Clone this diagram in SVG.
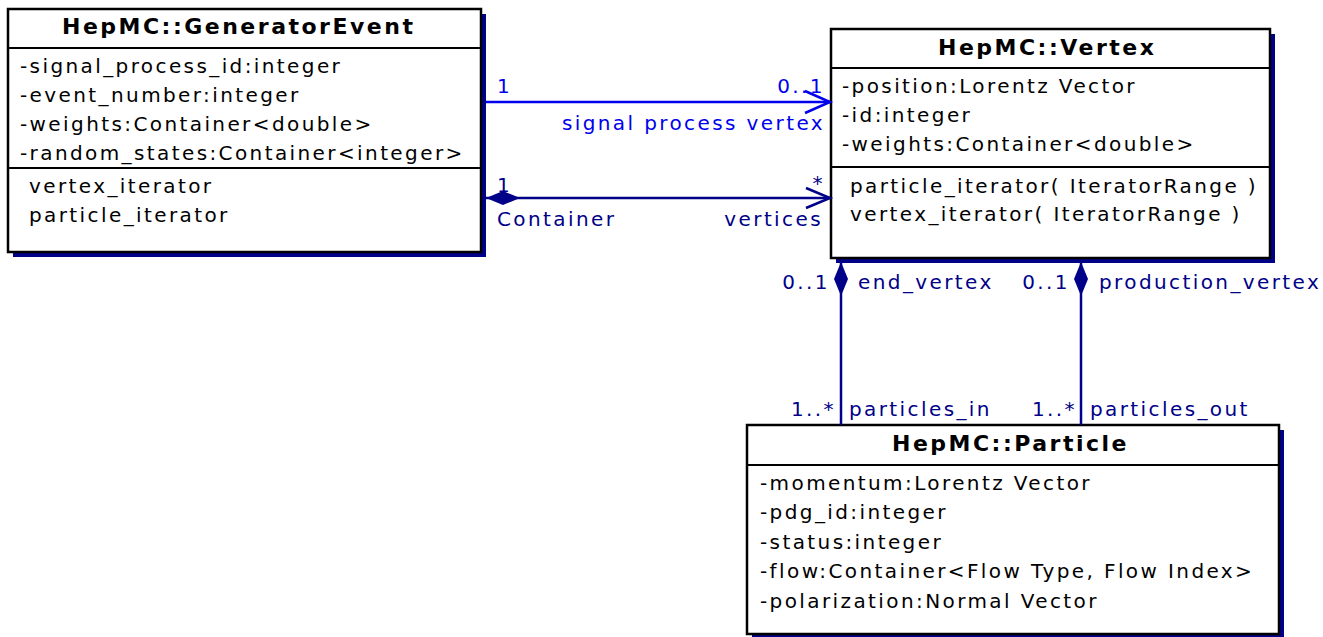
<svg xmlns="http://www.w3.org/2000/svg" width="1323" height="637" viewBox="0 0 1323 637">
<style>
.box{fill:#fff;stroke:#000;stroke-width:2.5}
.sh{fill:#000088}
.sep{stroke:#000;stroke-width:2}
.t{font-family:"DejaVu Sans",sans-serif;font-size:20px;letter-spacing:2.4px;fill:#000}
.ti{font-family:"DejaVu Sans",sans-serif;font-size:22px;font-weight:bold;letter-spacing:2.5px;fill:#000}
.lb{font-family:"DejaVu Sans",sans-serif;font-size:20px;letter-spacing:2.4px;fill:#0000ee}
.ln{font-family:"DejaVu Sans",sans-serif;font-size:20px;letter-spacing:2.4px;fill:#000088}
.e{text-anchor:end}
</style>
<g id="GeneratorEvent">
<rect class="sh" x="13" y="14" width="473" height="243"/>
<rect class="box" x="8" y="9" width="473" height="243"/>
<line class="sep" x1="8" y1="48" x2="481" y2="48"/>
<line class="sep" x1="8" y1="168" x2="481" y2="168"/>
<text class="ti" x="62" y="34">HepMC::GeneratorEvent</text>
<text class="t" x="20" y="73">-signal_process_id:integer</text>
<text class="t" x="20" y="102">-event_number:integer</text>
<text class="t" x="20" y="131">-weights:Container&lt;double&gt;</text>
<text class="t" x="20" y="160">-random_states:Container&lt;integer&gt;</text>
<text class="t" x="29" y="193">vertex_iterator</text>
<text class="t" x="29" y="222">particle_iterator</text>
</g>
<g id="Vertex">
<rect class="sh" x="836" y="34" width="439" height="229"/>
<rect class="box" x="831" y="29" width="439" height="229"/>
<line class="sep" x1="831" y1="68" x2="1270" y2="68"/>
<line class="sep" x1="831" y1="167" x2="1270" y2="167"/>
<text class="ti" x="938" y="55">HepMC::Vertex</text>
<text class="t" x="842" y="93">-position:Lorentz Vector</text>
<text class="t" x="842" y="122">-id:integer</text>
<text class="t" x="842" y="151">-weights:Container&lt;double&gt;</text>
<text class="t" x="850" y="193">particle_iterator( IteratorRange )</text>
<text class="t" x="850" y="221">vertex_iterator( IteratorRange )</text>
</g>
<g id="Particle">
<rect class="sh" x="752" y="430" width="532" height="209"/>
<rect class="box" x="747" y="425" width="532" height="209"/>
<line class="sep" x1="747" y1="465" x2="1279" y2="465"/>
<text class="ti" x="892" y="451">HepMC::Particle</text>
<text class="t" x="760" y="490">-momentum:Lorentz Vector</text>
<text class="t" x="760" y="519">-pdg_id:integer</text>
<text class="t" x="760" y="549">-status:integer</text>
<text class="t" x="760" y="578">-flow:Container&lt;Flow Type, Flow Index&gt;</text>
<text class="t" x="760" y="608">-polarization:Normal Vector</text>
</g>
<g id="connectors">
<g id="signal-process-vertex">
<line x1="486" y1="102" x2="830" y2="102" stroke="#0000ee" stroke-width="2.5"/>
<polyline points="805,91 830,102 805,113" fill="none" stroke="#0000ee" stroke-width="2.5"/>
<text class="lb" x="497" y="93">1</text>
<text class="lb e" x="825" y="93">0..1</text>
<text class="lb e" x="825" y="130">signal process vertex</text>
</g>
<g id="vertices">
<line x1="486" y1="198" x2="830" y2="198" stroke="#000088" stroke-width="2.5"/>
<polygon points="486,198 503,191 520,198 503,205" fill="#000088"/>
<polyline points="806,188 830,198 806,208" fill="none" stroke="#000088" stroke-width="2.5"/>
<text class="ln" x="497" y="192">1</text>
<text class="ln e" x="825" y="190">*</text>
<text class="ln" x="497" y="226">Container</text>
<text class="ln e" x="823" y="226">vertices</text>
</g>
<g id="end-vertex">
<line x1="841" y1="263" x2="841" y2="425" stroke="#000088" stroke-width="2.5"/>
<polygon points="841,262 848,279 841,296 834,279" fill="#000088"/>
<text class="ln e" x="830" y="289">0..1</text>
<text class="ln" x="858" y="289">end_vertex</text>
<text class="ln e" x="836" y="416">1..*</text>
<text class="ln" x="849" y="416">particles_in</text>
</g>
<g id="production-vertex">
<line x1="1081" y1="263" x2="1081" y2="425" stroke="#000088" stroke-width="2.5"/>
<polygon points="1081,262 1088,279 1081,296 1074,279" fill="#000088"/>
<text class="ln e" x="1070" y="289">0..1</text>
<text class="ln" x="1099" y="289">production_vertex</text>
<text class="ln e" x="1077" y="416">1..*</text>
<text class="ln" x="1090" y="416">particles_out</text>
</g>
</g>
</svg>
